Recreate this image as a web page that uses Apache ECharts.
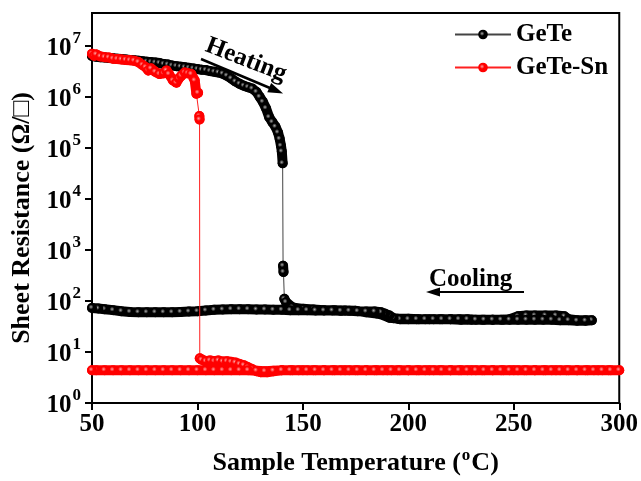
<!DOCTYPE html>
<html>
<head>
<meta charset="utf-8">
<script src="https://cdn.jsdelivr.net/npm/echarts@6/dist/echarts.min.js"></script>
<style>
  html, body { margin: 0; padding: 0; background: #fff; }
  #chart { width: 641px; height: 481px; }
</style>
</head>
<body>
<div id="chart"></div>
<script>
// GeTe: amorphous heating, drop, crystalline heating, then cooling
const geteT = [50, 52, 54, 56, 58, 60, 62, 64, 66, 68, 70, 72, 74, 76, 78, 80, 82, 84, 86, 88, 90, 92, 94, 96, 98, 100,
  102, 104, 106, 108, 110, 112, 114, 116, 118, 120, 122, 124, 126, 128, 129.5, 131, 132.5, 134, 135.5, 137, 138.2, 139, 139.6, 140, 140.4,
  140.6, 140.8, 141.2, 142, 145, 150, 155, 160, 165, 170, 175, 180, 185, 188, 191, 195, 200, 205, 210, 215, 220, 225, 230, 235, 240, 245, 248,
  252, 256, 260, 265, 270, 274, 276, 280, 284, 287,
  284, 280, 276, 272, 268, 264, 260, 256, 252, 248, 244, 240, 236, 232, 228, 224, 220, 216, 212, 208, 204, 200, 196, 193, 191, 189, 187, 184,
  180, 176, 172, 168, 164, 160, 156, 152, 148, 144, 140, 136, 132, 128, 124, 120, 116, 112, 108, 104, 100, 96, 92, 88, 84, 80, 76, 72, 68,
  64, 60, 56, 53, 50];
const geteR = [6.3e6, 6.1e6, 6.0e6, 5.9e6, 5.8e6, 5.7e6, 5.6e6, 5.5e6, 5.4e6, 5.3e6, 5.2e6, 5.1e6, 5.0e6, 4.9e6, 4.8e6, 4.7e6, 4.6e6, 4.4e6, 4.3e6, 4.1e6, 4.0e6, 3.9e6, 3.8e6, 3.7e6, 3.6e6, 3.5e6,
  3.4e6, 3.35e6, 3.2e6, 3.1e6, 3.0e6, 2.85e6, 2.6e6, 2.3e6, 2.0e6, 1.8e6, 1.65e6, 1.55e6, 1.45e6, 1.25e6, 1.0e6, 8e5, 6e5, 4e5, 3.2e5, 2.6e5, 2.0e5, 1.5e5, 1.1e5, 8.5e4, 5e4,
  490, 370, 110, 95, 75, 70, 68, 66, 66, 65, 64, 60, 57, 53, 47, 45, 45, 44, 44, 44, 44, 43, 43, 43, 43, 43, 44,
  50, 52, 52, 52, 52, 50, 44, 42, 42, 42,
  41, 41, 42, 42, 43, 43, 43, 43, 43, 43, 43, 43, 43, 43, 44, 44, 44, 44, 44, 44, 44, 44, 44, 46, 52, 56, 60, 62,
  62, 63, 64, 64, 65, 65, 65, 66, 66, 66, 67, 67, 68, 68, 69, 69, 69, 68, 67, 65, 63, 62, 61, 60, 60, 60, 60, 60, 61,
  63, 66, 69, 71, 73];

// GeTe-Sn: amorphous heating, drop near 101 C, crystalline heating, then cooling
const snT = [50, 51, 52, 54, 56, 58, 60, 62, 64, 66, 68, 70, 72, 74, 75.5, 76.7, 78, 80, 82, 84, 85.3, 86.5, 88.4, 90, 91.2, 92.4, 94, 95.5, 97.1, 98.7, 99.5, 100.3, 100.9, 101,
  101.1, 102, 104, 106, 108, 110, 112, 114, 116, 118, 120, 122, 124, 126, 128, 130, 133, 136, 140,
  145, 150, 155, 160, 165, 170, 175, 180, 185, 190, 195, 200, 205, 210, 215, 220, 225, 230, 235, 240, 245, 250, 255, 260, 265, 270, 275, 280, 285, 290, 295, 300,
  296, 292, 288, 284, 280, 276, 272, 268, 264, 260, 256, 252, 248, 244, 240, 236, 232, 228, 224, 220, 216, 212, 208, 204, 200, 196, 192, 188, 184,
  180, 176, 172, 168, 164, 160, 156, 152, 148, 144, 140, 136, 132, 128, 124, 120, 116, 112, 108, 104, 100, 96, 92, 88, 84, 80, 76, 72, 68, 64, 60, 56, 52, 50];
const snR = [7.0e6, 6.4e6, 6.8e6, 6.2e6, 6.0e6, 5.9e6, 5.6e6, 5.5e6, 5.4e6, 5.3e6, 5.2e6, 5.1e6, 4.8e6, 4.2e6, 3.8e6, 3.3e6, 3.6e6, 3.1e6, 2.8e6, 2.9e6, 3.3e6, 2.8e6, 2.1e6, 1.9e6, 2.3e6, 2.6e6, 3.0e6, 2.9e6, 2.8e6, 2.1e6, 1.15e6, 1.2e6, 4.2e5, 3.6e5,
  7.5, 7.0, 6.6, 6.8, 6.6, 6.8, 6.5, 6.6, 6.4, 6.2, 5.8, 5.5, 5.0, 4.6, 4.2, 4.0, 4.0, 4.2, 4.4,
  4.4, 4.4, 4.4, 4.4, 4.4, 4.4, 4.4, 4.4, 4.4, 4.4, 4.4, 4.4, 4.4, 4.4, 4.4, 4.4, 4.4, 4.4, 4.4, 4.4, 4.4, 4.4, 4.4, 4.4, 4.4, 4.4, 4.4, 4.4, 4.4, 4.4, 4.4, 4.4,
  4.4, 4.4, 4.4, 4.4, 4.4, 4.4, 4.4, 4.4, 4.4, 4.4, 4.4, 4.4, 4.4, 4.4, 4.4, 4.4, 4.4, 4.4, 4.4, 4.4, 4.4, 4.4, 4.4, 4.4, 4.4, 4.4, 4.4, 4.4, 4.4,
  4.4, 4.4, 4.4, 4.4, 4.4, 4.4, 4.4, 4.4, 4.4, 4.4, 4.4, 4.3, 4.2, 4.3, 4.4, 4.4, 4.4, 4.4, 4.4, 4.4, 4.4, 4.4, 4.4, 4.4, 4.4, 4.4, 4.4, 4.4, 4.4, 4.4, 4.4, 4.4, 4.4, 4.4];

const xTicks = [50, 100, 150, 200, 250, 300];
const yTicks = [1, 10, 100, 1e3, 1e4, 1e5, 1e6, 1e7];
const seriesNames = ['GeTe', 'GeTe-Sn'];

const FONT = "'Times New Roman', 'Liberation Serif', serif";

function zip(xs, ys) {
  return xs.map((x, i) => [x, ys[i]]);
}

// same points, but the thick band is broken where the resistance jumps,
// so the drops stay thin lines like in the measurement plot
function band(xs, ys) {
  const out = [];
  xs.forEach((x, i) => {
    if (i > 0 && Math.abs(Math.log10(ys[i] / ys[i - 1])) > 0.3) out.push(['-', '-']);
    out.push([x, ys[i]]);
  });
  return out;
}

function sphere(base, light) {
  return {
    type: 'radial', x: 0.4, y: 0.4, r: 0.6,
    colorStops: [{ offset: 0, color: light }, { offset: 0.4, color: base }, { offset: 1, color: base }]
  };
}

const chart = echarts.init(document.getElementById('chart'), null, { renderer: 'canvas' });

const txt = (size, extra) => Object.assign({ fontFamily: FONT, fontWeight: 'bold', fontSize: size, color: '#000' }, extra || {});

function bandSeries(name, xs, ys, color, z) {
  return {
    name, type: 'line', data: band(xs, ys),
    showSymbol: false, connectNulls: false,
    lineStyle: { color, width: 10, cap: 'round', join: 'round' },
    itemStyle: { color },
    emphasis: { disabled: true }, silent: true, z
  };
}

function pointSeries(name, xs, ys, lineColor, base, light, z) {
  return {
    name, type: 'line', data: zip(xs, ys),
    showSymbol: true, showAllSymbol: true,
    symbol: 'circle', symbolSize: 10,
    lineStyle: { color: lineColor, width: 1 },
    itemStyle: { color: sphere(base, light) },
    emphasis: { disabled: true }, z
  };
}

chart.setOption({
  animation: false,
  backgroundColor: '#fff',
  grid: {
    left: 92, right: 20, top: 13, bottom: 75,
    show: true, borderColor: '#000', borderWidth: 2
  },
  legend: {
    orient: 'vertical',
    left: 449, top: 17,
    itemWidth: 56, itemHeight: 12, itemGap: 8,
    textStyle: txt(25),
    data: seriesNames
  },
  xAxis: {
    type: 'value',
    min: xTicks[0], max: xTicks[xTicks.length - 1], interval: 50,
    name: '{a|Sample Temperature (}{s|o}{a|C)}',
    nameLocation: 'middle', nameGap: 44,
    nameTextStyle: {
      rich: {
        a: txt(26, { verticalAlign: 'bottom' }),
        s: txt(17, { verticalAlign: 'top', padding: [0, 1, 12, 1] })
      }
    },
    axisLine: { lineStyle: { color: '#000', width: 2 } },
    axisTick: { inside: false, length: 7, lineStyle: { color: '#000', width: 2 } },
    axisLabel: txt(25, { margin: 9 }),
    splitLine: { show: false }
  },
  yAxis: {
    type: 'log', logBase: 10,
    min: 1, max: 4.4e7,
    name: 'Sheet Resistance (Ω/□)',
    nameLocation: 'middle', nameGap: 56, nameRotate: 90,
    nameTextStyle: txt(26, { padding: [0, 20, 0, 0] }),
    axisLine: { lineStyle: { color: '#000', width: 2 } },
    axisTick: { inside: false, length: 7, lineStyle: { color: '#000', width: 2 }, customValues: yTicks },
    axisLabel: {
      customValues: yTicks,
      margin: 11,
      formatter: v => '{n|10}{s|' + Math.round(Math.log10(v)) + '}',
      rich: {
        n: txt(25, { verticalAlign: 'bottom' }),
        s: txt(17, { verticalAlign: 'top', padding: [0, 0, 14, 1] })
      }
    },
    splitLine: { show: false }
  },
  graphic: [
    {
      type: 'text', left: 429, top: 267,
      style: { text: 'Cooling', font: "bold 25px 'Times New Roman', 'Liberation Serif', serif", fill: '#000' }
    },
    {
      type: 'line', shape: { x1: 524, y1: 292, x2: 436, y2: 292 },
      style: { stroke: '#000', lineWidth: 2 }
    },
    {
      type: 'polygon', shape: { points: [[426, 292], [440, 287.5], [440, 296.5]] },
      style: { fill: '#000' }
    },
    {
      type: 'group', x: 201, y: 59, rotation: -0.398,
      children: [
        { type: 'line', shape: { x1: 0, y1: 0, x2: 78, y2: 0 }, style: { stroke: '#000', lineWidth: 2.5 } },
        { type: 'polygon', shape: { points: [[89, 0], [74, -5], [74, 5]] }, style: { fill: '#000' } }
      ]
    },
    {
      type: 'text', x: 211, y: 33, rotation: -0.37,
      style: { text: 'Heating', font: "bold 25px 'Times New Roman', 'Liberation Serif', serif", fill: '#000' }
    }
  ],
  series: [
    pointSeries(seriesNames[0], geteT, geteR, '#444', '#000', '#aaa', 2),
    bandSeries(seriesNames[0], geteT, geteR, '#000', 2),
    pointSeries(seriesNames[1], snT, snR, '#ff2020', '#ff0000', '#ffa0a0', 3),
    bandSeries(seriesNames[1], snT, snR, '#ff0000', 3)
  ]
});
</script>
</body>
</html>
